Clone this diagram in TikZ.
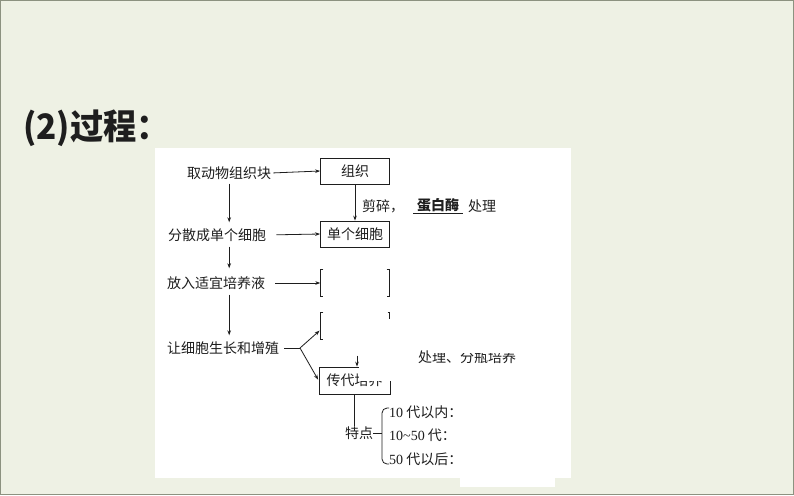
\documentclass[tikz,border=0pt]{standalone}
\usepackage{fontspec}
\setmainfont{Liberation Serif}
\newfontfamily\cjk{Noto Sans CJK SC}
\newfontfamily\dig{Liberation Serif}
\usetikzlibrary{arrows.meta}
\definecolor{bgc}{RGB}{238,241,228}
\definecolor{framec}{RGB}{140,146,128}
\definecolor{ink}{RGB}{30,30,30}
\begin{document}
\begin{tikzpicture}[x=1pt,y=-1pt,
  txt/.style={inner sep=0pt, anchor=west, text=ink, font=\cjk\fontsize{14}{16}\selectfont},
  bx/.style={draw=ink, line width=0.8pt, minimum width=69pt, minimum height=26pt, inner sep=0pt, text=ink, font=\cjk\fontsize{14}{16}\selectfont},
  hollow/.style={minimum width=69pt, minimum height=26pt, inner sep=0pt},
  arr/.style={draw=ink, line width=0.8pt, -{Stealth[length=5pt,width=3.6pt]}},
  ln/.style={draw=ink, line width=0.8pt},
  mask/.style={fill=white, draw=none}]

\useasboundingbox (0,0) rectangle (794,495);
\fill[bgc] (0,0) rectangle (794,495);
\draw[framec, line width=1.2pt] (0.6,0.6) rectangle (793.4,494.4);
\fill[white] (155,148) rectangle (571,478);
\fill[white] (460,470) rectangle (555,487);

% title
\node[anchor=west, inner sep=0pt, text=ink, font=\cjk\bfseries\fontsize{35}{38}\selectfont, xscale=0.95] (title) at (23,128) {(2)过程：};

% left column
\node[txt] (a1) at (187,173) {取动物组织块};
\node[txt] (a2) at (168,235) {分散成单个细胞};
\node[txt] (a3) at (167,283) {放入适宜培养液};
\node[txt] (a4) at (167,348) {让细胞生长和增殖};

% boxes
\node[bx] (b1) at (355,171) {组织};
\node[bx] (b2) at (355,234) {单个细胞};
\node[hollow] (b3) at (355,283) {};
\node[hollow] (b4) at (355,326) {};
\node[bx, minimum width=71pt, minimum height=27pt] (b5) at (354.5,380.5) {传代培养};

% brackets
\draw[ln] ([xshift=3pt]b3.north west) -- (b3.north west) -- (b3.south west) -- ([xshift=3pt]b3.south west);
\draw[ln] ([xshift=-3pt]b3.north east) -- (b3.north east) -- (b3.south east) -- ([xshift=-3pt]b3.south east);
\draw[ln] ([xshift=3pt]b4.north west) -- (b4.north west) -- (b4.south west) -- ([xshift=3pt]b4.south west);
\draw[ln] ([xshift=-2pt]b4.north east) -- (b4.north east) -- ++(0,6);

% left vertical arrows
\draw[arr, shorten <=4pt, shorten >=6pt] (a1.south) -- (a1.south |- a2.north);
\draw[arr, shorten <=5pt, shorten >=8pt] (a1.south |- a2.south) -- (a1.south |- a3.north);
\draw[arr, shorten <=5pt, shorten >=6pt] (a1.south |- a3.south) -- (a1.south |- a4.north);

% horizontal arrows
\draw[arr, shorten <=2pt] (a1.east) -- (b1.west);
\draw[arr, shorten <=10pt] (a2.east) -- (b2.west);
\draw[arr, shorten <=10pt] (a3.east) -- (b3.west);
\draw[arr] (b1.south) -- (b2.north);

% branches
\coordinate (j) at (300,348);
\draw[ln, shorten <=5pt] (a4.east) -- (j);
\draw[arr, shorten >=1pt] (j) -- ([yshift=-4pt]b4.west);
\draw[arr, shorten >=1pt] (j) -- (b5.west);
\draw[arr] ([xshift=2.5pt,yshift=11pt]b5.north) -- ([xshift=2.5pt]b5.north);

% labels of b1->b2
\node[txt] (l1) at (362,206) {剪碎，};
\node[txt, font=\cjk\bfseries\fontsize{14}{16}\selectfont] (l2) at (417,205) {蛋白酶};
\draw[ln] (413,213) -- (463,213);
\node[txt] (l3) at (468,206) {处理};

% partly hidden label
\node[txt] (l4) at (418,357) {处理、分瓶培养};
\fill[mask] (428,340) rectangle (535,352.5);

% hide top right of b5
\fill[mask] (359,362) rectangle (396,381);

% features
\node[txt] (td) at (345,433) {特点};
\draw[ln] (b5.south) -- (b5.south |- td.north);
\coordinate (bm) at (382,433);
\draw[ln] (td.east) -- (bm);
\draw[ln, rounded corners=5pt] (389,408) -- (382,408) -- (382,464) -- (389,464);
\node[txt] (c1) at (389,412) {{\dig 10} 代以内：};
\node[txt] (c2) at (389,435) {{\dig 10\textasciitilde 50} 代：};
\node[txt] (c3) at (389,459) {{\dig 50} 代以后：};
\end{tikzpicture}
\end{document}
